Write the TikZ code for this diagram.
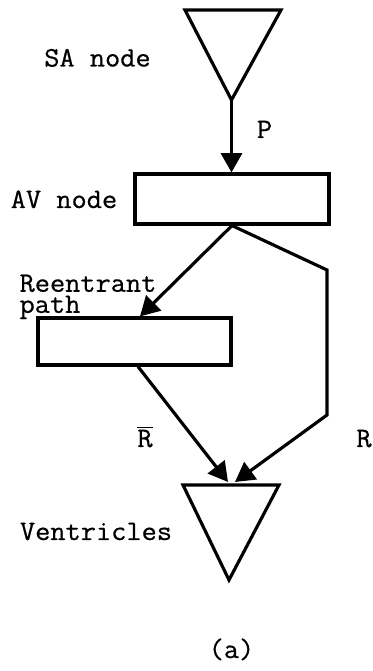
\documentclass[tikz,border=0pt]{standalone}
\usepackage{fontspec}
\setmainfont{Latin Modern Mono}[FakeStretch=1.05, FakeBold=0.6]
\usetikzlibrary{arrows.meta}

\begin{document}
\begin{tikzpicture}[
        >={Triangle[length=11pt,width=12pt]},
        line width=1.8pt,
        box/.style={draw, minimum width=3.88cm, minimum height=1cm, inner sep=0pt},
        lbl/.style={inner sep=0pt, font=\fontsize{16pt}{12pt}\selectfont},
        ]
        \useasboundingbox (0,0) rectangle (7.46,13.42);

        % Triangles
        \coordinate (sa) at (4.63,11.42);
        \draw (sa) -- ++(-0.93,1.80) -- ++(1.92,0) -- cycle;
        \coordinate (ven) at (4.62,3.72);
        \draw (ven) ++(-0.96,0) -- ++(1.92,0) -- ++(-1.0,-1.90) -- cycle;

        % Boxes
        \node[box] (av) at (4.64,9.44) {};
        \node[box, minimum width=3.86cm, minimum height=0.94cm] (re) at (2.69,6.59) {};

        % Paths
        \draw[->] (sa) -- (sa |- av.north);
        \draw[->] (av.south) -- ([xshift=0.11cm]re.north);
        \draw[->] (av.south) -- (6.54,8.02) -- (6.54,5.12) -- ([shift={(0.08,0.06)}]ven);
        \draw[->] ([xshift=0.07cm]re.south) -- ([shift={(-0.06,0.06)}]ven);

        % Labels
        \node[lbl, anchor=base] (salbl) at (1.95,12.09) {SA node};
        \node[lbl, anchor=base] (avlbl) at (1.28,9.26) {AV node};
        \node[lbl, anchor=north west, align=left] (relbl) at (0.36,7.96) {Reentrant\\path};
        \node[lbl, anchor=base] (ventlbl) at (1.92,2.62) {Ventricles};
        \node[lbl, anchor=base] (plbl) at (5.29,10.66) {P};
        \node[lbl, anchor=base] (rbarlbl) at (2.90,4.48) {$\overline{\mbox{R}}$};
        \node[lbl, anchor=base] (rlbl) at (7.28,4.48) {R};
        \node[lbl, anchor=base] (cap) at (4.63,0.26) {(a)};
\end{tikzpicture}
\end{document}
